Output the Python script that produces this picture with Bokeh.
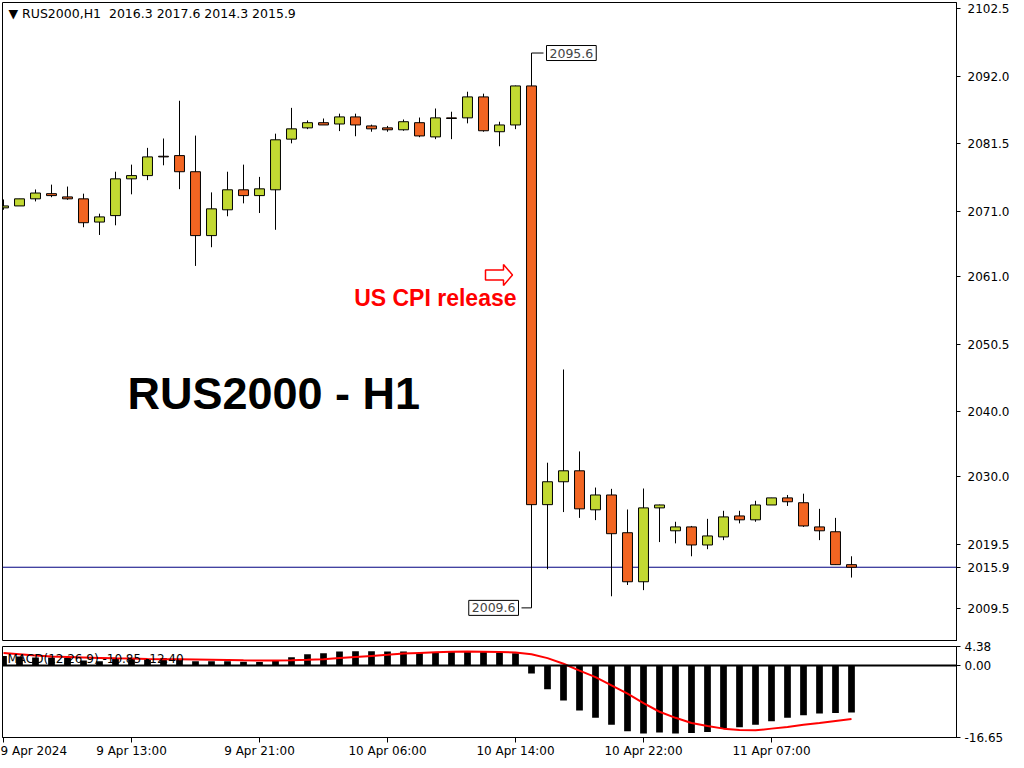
from bokeh.plotting import figure
from bokeh.models import Range1d, FixedTicker, NumeralTickFormatter, Span, Label, ColumnDataSource
from bokeh.layouts import column
from bokeh.embed import file_html
from bokeh.resources import INLINE

# ---------------- data ----------------
symbol = "RUS2000"
timeframe = "H1"
chart_title = "RUS2000 - H1"
event_text = "US CPI release"
cpi_index = 33

opens = [2071.6, 2071.9, 2073.0, 2073.8, 2073.3, 2073.0, 2069.4, 2070.4, 2076.1, 2076.6,
         2079.6, 2079.7, 2077.2, 2067.3, 2071.3, 2074.4, 2073.5, 2074.4, 2082.25, 2084.0,
         2084.8, 2084.6, 2085.7, 2084.3, 2084.0, 2083.7, 2084.8, 2082.6, 2085.55, 2085.55,
         2088.8, 2083.4, 2084.45, 2090.5, 2025.6, 2029.15, 2030.85, 2024.8, 2027.1, 2021.25,
         2013.65, 2025.1, 2021.55, 2022.15, 2019.35, 2020.6, 2023.85, 2023.25, 2025.55, 2026.65,
         2025.9, 2022.15, 2021.4, 2016.3]
highs = [2072.9, 2073.0, 2074.45, 2075.2, 2074.9, 2073.8, 2070.7, 2077.2, 2078.3, 2080.9,
         2082.35, 2088.2, 2082.8, 2074.0, 2077.2, 2078.3, 2076.4, 2083.1, 2087.1, 2085.15,
         2085.45, 2086.2, 2086.2, 2084.5, 2084.3, 2085.3, 2085.6, 2087.0, 2086.5, 2089.6,
         2089.3, 2084.95, 2090.55, 2095.6, 2032.1, 2046.55, 2033.85, 2028.25, 2028.05, 2024.85,
         2028.1, 2025.6, 2022.95, 2022.3, 2023.4, 2024.65, 2024.65, 2026.2, 2026.65, 2027.1,
         2027.3, 2024.95, 2023.55, 2017.6]
lows = [2071.3, 2071.9, 2072.6, 2073.25, 2072.85, 2068.6, 2067.4, 2068.9, 2073.7, 2075.9,
        2078.2, 2074.5, 2062.6, 2065.5, 2070.3, 2072.3, 2070.8, 2068.2, 2081.6, 2083.8,
        2084.45, 2083.5, 2082.7, 2083.4, 2083.4, 2083.55, 2082.55, 2082.25, 2082.25, 2084.7,
        2083.4, 2081.15, 2083.8, 2009.6, 2015.6, 2024.45, 2023.55, 2023.2, 2011.4, 2013.15,
        2012.35, 2019.8, 2019.6, 2017.6, 2018.7, 2020.1, 2022.7, 2022.95, 2025.55, 2025.4,
        2022.15, 2020.1, 2016.25, 2014.3]
closes = [2071.9, 2073.0, 2073.9, 2073.5, 2073.0, 2069.3, 2070.2, 2076.1, 2076.6, 2079.5,
          2079.5, 2077.2, 2067.3, 2071.45, 2074.4, 2073.5, 2074.55, 2082.15, 2083.85, 2084.8,
          2084.45, 2085.7, 2084.45, 2083.85, 2083.7, 2084.95, 2082.75, 2085.55, 2085.45, 2088.8,
          2083.55, 2084.45, 2090.5, 2025.6, 2029.15, 2030.85, 2024.95, 2027.1, 2021.1, 2013.65,
          2025.1, 2025.55, 2022.15, 2019.35, 2020.75, 2023.7, 2023.25, 2025.55, 2026.65, 2026.05,
          2022.3, 2021.55, 2016.3, 2015.9]

macd_hist = [2.2, 2.05, 1.85, 1.85, 1.7, 1.15, 0.95, 1.5, 1.5, 1.5,
             1.7, 1.5, 1.0, 0.95, 0.95, 0.88, 0.8, 1.2, 1.9, 2.6,
             2.8, 3.2, 3.3, 3.3, 3.2, 3.2, 2.85, 2.85, 3.3, 3.35,
             3.1, 2.95, 2.8, -1.85, -5.5, -8.1, -10.4, -12.1, -13.7, -15.2,
             -15.7, -15.5, -15.7, -15.6, -15.4, -14.5, -14.3, -13.7, -12.9, -12.1,
             -11.5, -11.1, -11.0, -10.85]
macd_signal = [2.85, 2.6, 2.3, 2.05, 1.95, 1.85, 1.75, 1.65, 1.6, 1.5,
               1.45, 1.42, 1.38, 1.32, 1.25, 1.18, 1.15, 1.15, 1.2, 1.3,
               1.45, 1.7, 1.95, 2.2, 2.45, 2.75, 2.9, 3.05, 3.15, 3.2,
               3.15, 3.1, 3.0, 2.6, 1.7, 0.4, -1.2, -2.7, -4.6, -6.5,
               -8.7, -10.7, -12.1, -13.3, -14.0, -14.6, -14.9, -15.0, -14.6, -14.2,
               -13.7, -13.3, -12.85, -12.4]

date_ticks = [0, 8, 16, 24, 32, 40, 48]
date_labels = ["9 Apr 2024", "9 Apr 13:00", "9 Apr 21:00", "10 Apr 06:00",
               "10 Apr 14:00", "10 Apr 22:00", "11 Apr 07:00"]
price_ticks = [2009.5, 2019.5, 2030.0, 2040.0, 2050.5, 2061.0, 2071.0, 2081.5, 2092.0, 2102.5]
macd_ticks = [4.38, 0.0, -16.65]

# ---------------- layout constants ----------------
FONT = "DejaVu Sans"
BULL = "#C2D932"
BEAR = "#F26522"
W = 1016
LEFT = 2
AXIS_W = 60
FRAME_W = W - AXIS_W - LEFT          # 954
MAIN_TOP = 2
MAIN_FRAME_H = 639
MAIN_H = MAIN_TOP + MAIN_FRAME_H
MACD_TOP = 5
MACD_FRAME_H = 95
MACD_BOTTOM = 19
MACD_H = MACD_TOP + MACD_FRAME_H + MACD_BOTTOM

X0, X1 = -0.0625, 59.5625
P0, P1 = 2004.39, 2103.43
M0, M1 = macd_ticks[-1], macd_ticks[0]


def dx(px):
    return px * (X1 - X0) / FRAME_W


def dyp(px):
    return px * (P1 - P0) / MAIN_FRAME_H


def dym(px):
    return px * (M1 - M0) / MACD_FRAME_H


n = len(opens)
idx = list(range(n))
src = ColumnDataSource(dict(
    x=idx, o=opens, h=highs, l=lows, c=closes,
    top=[max(a, b) for a, b in zip(opens, closes)],
    bottom=[min(a, b) for a, b in zip(opens, closes)],
    color=[BULL if c > o else BEAR for o, c in zip(opens, closes)],
))

xr = Range1d(X0, X1)


def style_axis(ax):
    ax.axis_line_color = "black"
    ax.major_tick_line_color = "black"
    ax.major_tick_in = 0
    ax.minor_tick_in = 0
    ax.minor_tick_out = 0
    ax.major_label_text_font = FONT
    ax.major_label_text_font_size = "12px"
    ax.major_label_text_color = "black"


# ---------------- main price panel ----------------
p = figure(width=W, height=MAIN_H, x_range=xr, y_range=Range1d(P0, P1),
           output_backend="svg", toolbar_location=None,
           x_axis_location=None, y_axis_location="right",
           min_border_left=LEFT, min_border_top=MAIN_TOP, min_border_bottom=0,
           min_border_right=AXIS_W)
p.grid.visible = False
p.outline_line_color = "black"
p.background_fill_color = "white"
p.border_fill_color = "white"

ya = p.yaxis[0]
style_axis(ya)
ya.ticker = FixedTicker(ticks=price_ticks + [closes[-1]])
ya.formatter = NumeralTickFormatter(format="0.0")
ya.major_tick_out = 4
ya.major_label_standoff = 7

p.add_layout(Span(location=closes[-1], dimension="width", line_color="#000080",
                  line_width=1, level="underlay"))

p.segment(x0="x", y0="l", x1="x", y1="h", source=src, line_color="black", line_width=1)
p.vbar(x="x", top="top", bottom="bottom", width=0.62, fill_color="color",
       line_color="black", line_width=1, source=src)

# high / low markers of the CPI candle
hi = highs[cpi_index]
lo = lows[cpi_index]
p.segment(x0=[cpi_index, cpi_index], y0=[hi, lo],
          x1=[cpi_index + dx(12), cpi_index - dx(10)], y1=[hi, lo],
          line_color="black", line_width=1)
p.add_layout(Label(x=cpi_index + dx(15), y=hi, text=f"{hi:.1f}", text_font=FONT,
                   text_font_size="12.5px", text_align="left", text_baseline="middle",
                   background_fill_color="white", border_line_color="black", padding=3))
p.add_layout(Label(x=cpi_index - dx(13), y=lo, text=f"{lo:.1f}", text_font=FONT,
                   text_font_size="12.5px", text_align="right", text_baseline="middle",
                   background_fill_color="white", border_line_color="black", padding=3))

# header
last = n - 1
header = (f"\u25BC {symbol},{timeframe}\u00a0\u00a0{opens[last]:.1f} {highs[last]:.1f} "
          f"{lows[last]:.1f} {closes[last]:.1f}")
p.add_layout(Label(x=X0 + dx(6), y=P1 - dyp(11), text=header, text_font=FONT,
                   text_font_size="12.5px", text_align="left", text_baseline="middle",
                   text_color="black"))

# big title
p.add_layout(Label(x=7.75, y=2042.8, text=chart_title, text_font="Liberation Sans",
                   text_font_style="bold", text_font_size="45px", text_align="left",
                   text_baseline="middle", text_color="black"))

# CPI annotation
p.add_layout(Label(x=cpi_index - dx(15), y=2057.7, text=event_text, text_font="Liberation Sans",
                   text_font_style="bold", text_font_size="23px", text_align="right",
                   text_baseline="middle", text_color="#FF0000"))
tx, ty = cpi_index - dx(19), 2061.2
arrow_x = [tx, tx - dx(9), tx - dx(9), tx - dx(27), tx - dx(27), tx - dx(9), tx - dx(9)]
arrow_y = [ty, ty + dyp(10.5), ty + dyp(5), ty + dyp(5), ty - dyp(5), ty - dyp(5), ty - dyp(10.5)]
p.patch(arrow_x, arrow_y, fill_color="white", line_color="#FF0000", line_width=1.5)

# ---------------- MACD panel ----------------
m = figure(width=W, height=MACD_H, x_range=xr, y_range=Range1d(M0, M1),
           output_backend="svg", toolbar_location=None,
           x_axis_location="below", y_axis_location="right",
           min_border_left=LEFT, min_border_top=MACD_TOP, min_border_bottom=MACD_BOTTOM,
           min_border_right=AXIS_W)
m.grid.visible = False
m.outline_line_color = "black"
m.background_fill_color = "white"
m.border_fill_color = "white"

m.vbar(x=idx, top=macd_hist, bottom=0, width=0.42, fill_color="black", line_color=None)
m.add_layout(Span(location=0, dimension="width", line_color="black", line_width=2))
m.line(idx, macd_signal, line_color="#FF0000", line_width=2)

xa = m.xaxis[0]
style_axis(xa)
xa.ticker = FixedTicker(ticks=date_ticks)
xa.major_label_overrides = {t: lab for t, lab in zip(date_ticks, date_labels)}
xa.major_label_text_align = "left"
xa.major_tick_out = 5
xa.major_label_standoff = 1

my = m.yaxis[0]
style_axis(my)
my.ticker = FixedTicker(ticks=macd_ticks)
my.formatter = NumeralTickFormatter(format="0.00")
my.major_tick_out = 4
my.major_label_standoff = 4

m.add_layout(Label(x=X0 + dx(5), y=M1 - dym(13),
                   text=f"MACD(12,26,9) {macd_hist[-1]:.2f} {macd_signal[-1]:.2f}",
                   text_font=FONT, text_font_size="12px", text_align="left",
                   text_baseline="middle", text_color="black"))

layout = column(p, m, spacing=0)
open("out.html", "w").write(file_html(layout, INLINE))
